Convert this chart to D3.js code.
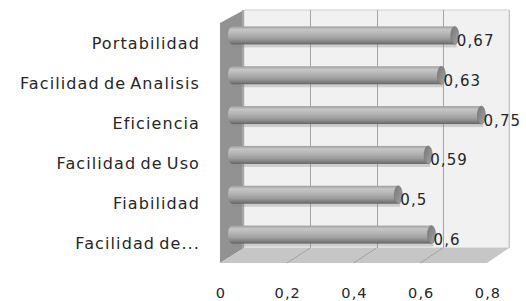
<!DOCTYPE html>
<html>
<head>
<meta charset="utf-8">
<script src="https://cdn.jsdelivr.net/npm/d3@7"></script>
<style>
  html, body { margin: 0; padding: 0; background: #ffffff; }
  svg { display: block; }
  text { font-family: "DejaVu Sans", sans-serif; fill: #262626; }
</style>
</head>
<body>
<div id="chart"></div>
<script>
const categories = ['Portabilidad', 'Facilidad de Analisis', 'Eficiencia', 'Facilidad de Uso', 'Fiabilidad', 'Facilidad de...'];
const values = [0.67, 0.63, 0.75, 0.59, 0.5, 0.6];
const valueLabels = ['0,67', '0,63', '0,75', '0,59', '0,5', '0,6'];
const ticks = [0, 0.2, 0.4, 0.6, 0.8];
const tickLabels = ['0', '0,2', '0,4', '0,6', '0,8'];

const W = 526, H = 301;

// 3D box: front plane and back plane of the plot
const xFront = d3.scaleLinear().domain([0, 0.8]).range([220, 487]);
const xBack = d3.scaleLinear().domain([0, 0.8]).range([244, 509]);
const xMid = d3.scaleLinear().domain([0, 0.8]).range([232, 498]);
const yFront = d3.scaleBand().domain(categories).range([23, 263]);
const yBack = d3.scaleBand().domain(categories).range([10, 248]);
const yMid = d3.scaleBand().domain(categories).range([16.5, 255.5]);

const svg = d3.select('#chart').append('svg')
    .attr('width', W)
    .attr('height', H);

const defs = svg.append('defs');
const bodyGrad = defs.append('linearGradient')
    .attr('id', 'cyl')
    .attr('x1', 0).attr('y1', 0).attr('x2', 0).attr('y2', 1);
[[0, '#9e9e9e'], [0.18, '#c6c6c6'], [0.4, '#b6b6b6'], [0.7, '#9c9c9c'], [0.9, '#7a7a7a'], [1, '#626262']]
    .forEach(([o, c]) => bodyGrad.append('stop').attr('offset', o).attr('stop-color', c));
const capGrad = defs.append('linearGradient')
    .attr('id', 'cap')
    .attr('x1', 0).attr('y1', 0).attr('x2', 1).attr('y2', 1);
[[0, '#787878'], [0.5, '#8c8c8c'], [1, '#a6a6a6']]
    .forEach(([o, c]) => capGrad.append('stop').attr('offset', o).attr('stop-color', c));

const y0f = yFront.range()[0], y1f = yFront.range()[1];
const y0b = yBack.range()[0], y1b = yBack.range()[1];
const poly = (pts) => pts.map((p) => p.join(',')).join(' ');

// back wall
svg.append('polygon')
    .attr('points', poly([[xBack(0), y0b], [xBack(0.8), y0b], [xBack(0.8), y1b], [xBack(0), y1b]]))
    .attr('fill', '#f1f1f1')
    .attr('stroke', '#cfcfcf')
    .attr('stroke-width', 1);

// back wall gridlines
svg.selectAll('line.grid')
    .data(ticks.slice(1))
    .join('line')
    .attr('class', 'grid')
    .attr('x1', (d) => Math.round(xBack(d)) + 0.5)
    .attr('x2', (d) => Math.round(xBack(d)) + 0.5)
    .attr('y1', y0b)
    .attr('y2', y1b)
    .attr('stroke', (d) => (d === 0.8 ? '#c4c4c4' : '#a4a4a4'))
    .attr('stroke-width', 1);

// side wall
svg.append('polygon')
    .attr('points', poly([[xFront(0), y0f], [xBack(0), y0b], [xBack(0), y1b], [xFront(0), y1f]]))
    .attr('fill', '#929292');
svg.append('line')
    .attr('x1', xBack(0) - 1).attr('x2', xBack(0) - 1)
    .attr('y1', y0b).attr('y2', y1b)
    .attr('stroke', '#a8a8a8').attr('stroke-width', 2);

// floor
svg.append('polygon')
    .attr('points', poly([[xFront(0), y1f], [xBack(0), y1b], [xBack(0.8), y1b], [xFront(0.8), y1f]]))
    .attr('fill', '#c6c6c6');
svg.selectAll('line.floor-grid')
    .data(ticks.slice(1, -1))
    .join('line')
    .attr('class', 'floor-grid')
    .attr('x1', (d) => xBack(d))
    .attr('x2', (d) => xFront(d))
    .attr('y1', y1b)
    .attr('y2', y1f)
    .attr('stroke', '#a2a2a2')
    .attr('stroke-width', 1);

// cylinders
const R = 9;
const bars = svg.selectAll('g.bar')
    .data(categories.map((c, i) => ({ c, v: values[i], label: valueLabels[i] })))
    .join('g')
    .attr('class', 'bar');
const cy = (d) => yMid(d.c) + yMid.bandwidth() / 2 - 1;

bars.append('rect')
    .attr('x', xMid(0))
    .attr('y', (d) => cy(d) - R + 2)
    .attr('width', (d) => xMid(d.v) - xMid(0) + 2)
    .attr('height', 2 * R + 1)
    .attr('fill', '#8a8a8a')
    .attr('opacity', 0.35);
bars.append('ellipse')
    .attr('cx', xMid(0))
    .attr('cy', cy)
    .attr('rx', 4)
    .attr('ry', R)
    .attr('fill', 'url(#cyl)');
bars.append('rect')
    .attr('x', xMid(0))
    .attr('y', (d) => cy(d) - R)
    .attr('width', (d) => xMid(d.v) - xMid(0))
    .attr('height', 2 * R)
    .attr('fill', 'url(#cyl)');
bars.append('ellipse')
    .attr('cx', (d) => xMid(d.v))
    .attr('cy', cy)
    .attr('rx', 4)
    .attr('ry', R)
    .attr('fill', 'url(#cap)')
    .attr('stroke', '#747474')
    .attr('stroke-width', 0.6);

bars.append('text')
    .attr('x', (d) => xMid(d.v) + 2)
    .attr('y', (d) => cy(d) + 10.5)
    .attr('font-size', 15)
    .attr('letter-spacing', 1.1)
    .attr('fill', '#2e2e2e')
    .text((d) => d.label);

// category labels (front plane)
svg.selectAll('text.cat')
    .data(categories)
    .join('text')
    .attr('class', 'cat')
    .attr('x', 200)
    .attr('y', (d) => yFront(d) + yFront.bandwidth() / 2 + 6)
    .attr('text-anchor', 'end')
    .attr('font-size', 16)
    .attr('letter-spacing', 1.1)
    .attr('word-spacing', -2)
    .text((d) => d);

// value axis tick labels
svg.selectAll('text.tick')
    .data(ticks)
    .join('text')
    .attr('class', 'tick')
    .attr('x', (d) => xFront(d) + 1)
    .attr('y', 298)
    .attr('text-anchor', 'middle')
    .attr('font-size', 14.5)
    .attr('letter-spacing', 1.1)
    .attr('fill', '#2e2e2e')
    .text((d, i) => tickLabels[i]);
</script>
</body>
</html>
